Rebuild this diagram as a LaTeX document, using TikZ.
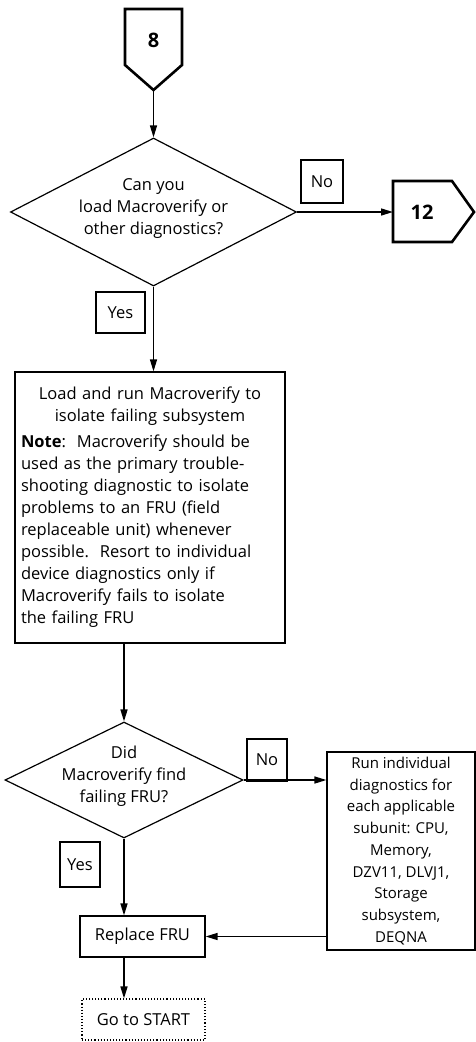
\documentclass[tikz,border=0pt]{standalone}
\usepackage{fontspec}
\setmainfont{Open Sans}
\usetikzlibrary{shapes.geometric,arrows.meta}
\newcommand{\qlines}[1]{\smash{\makebox[0pt]{\begin{tabular}{@{}c@{}}#1\end{tabular}}}}
\tikzset{
  box/.style={draw, line width=1.2pt, inner sep=0pt, align=center},
  decision/.style={draw, diamond, line width=1.2pt, inner sep=0pt},
  tag/.style={draw, line width=1.1pt, inner sep=0pt},
  offpage/.style={line width=2.6pt, line join=miter},
  flow/.style={line width=1.5pt, -{Triangle[length=12pt,width=7pt]}},
}
\begin{document}
\begin{tikzpicture}[x=1pt, y=-1pt, font=\fontsize{16.5}{22}\selectfont]
	\useasboundingbox (0,0) rectangle (476,1042);

	% connector in from page 8
	\draw[offpage] (125,9) -- (182,9) -- (182,65) -- (153.5,90) -- (125,65) -- cycle;
	\node (c8) at (153.5,40) {\fontsize{20}{20}\selectfont\bfseries 8};
	\coordinate (c8tip) at (153.5,90);

	\node[decision, minimum width=286pt, minimum height=148pt] (q1) at (153.5,212)
		{\qlines{Can you\\load Macroverify or\\other diagnostics?}};
	\node[tag, minimum width=42pt, minimum height=43pt] (no1) at (322,181.5) {No};

	% connector out to page 12
	\draw[offpage] (393,181) -- (452,181) -- (474,212) -- (452,242) -- (393,242) -- cycle;
	\node (c12) at (422,212) {\fontsize{20}{20}\selectfont\bfseries 12};
	\coordinate (c12in) at (393,212);

	\node[tag, minimum width=49pt, minimum height=41pt] (yes1) at (120.5,312.5) {Yes};

	\node[box, minimum width=270pt, minimum height=271pt, text width=258pt, align=left] (run) at (150,507.5)
		{{\centering Load and run Macroverify to\\isolate failing subsystem\par}\vspace{4pt}
		\textbf{Note}:\ \ Macroverify should be\\
		used as the primary trouble-\\
		shooting diagnostic to isolate\\
		problems to an FRU (field\\
		replaceable unit) whenever\\
		possible.\ \ Resort to individual\\
		device diagnostics only if\\
		Macroverify fails to isolate\\
		the failing FRU};

	\node[decision, minimum width=238pt, minimum height=116pt] (q2) at (124,780)
		{\qlines{Did\\Macroverify find\\failing FRU?}};
	\node[tag, minimum width=40pt, minimum height=42pt] (no2) at (267,760) {No};
	\node[tag, minimum width=40pt, minimum height=45pt] (yes2) at (80,864.5) {Yes};

	\node[box, minimum width=148pt, minimum height=198pt, font=\fontsize{15}{21.75}\selectfont] (diag) at (401,851)
		{Run individual\\diagnostics for\\each applicable\\subunit: CPU,\\Memory,\\DZV11, DLVJ1,\\Storage\\subsystem,\\DEQNA};

	\node[box, minimum width=125pt, minimum height=41pt] (fru) at (142.5,936.5) {Replace FRU};
	\node[draw, dotted, line width=1.1pt, inner sep=0pt, minimum width=123pt, minimum height=41pt] (start) at (143.5,1019.5) {Go to START};

	\draw[flow] (c8tip) -- (q1.north);
	\draw[flow] (q1.east) -- (c12in);
	\draw[flow] (q1.south) -- (run.north -| q1.south);
	\draw[flow] (run.south -| q2.north) -- (q2.north);
	\draw[flow] (q2.east) -- (diag.west |- q2.east);
	\draw[flow] (q2.south) -- (fru.north -| q2.south);
	\draw[flow] (diag.west |- fru.east) -- (fru.east);
	\draw[flow] (fru.south -| q2.south) -- (start.north -| q2.south);
\end{tikzpicture}
\end{document}
